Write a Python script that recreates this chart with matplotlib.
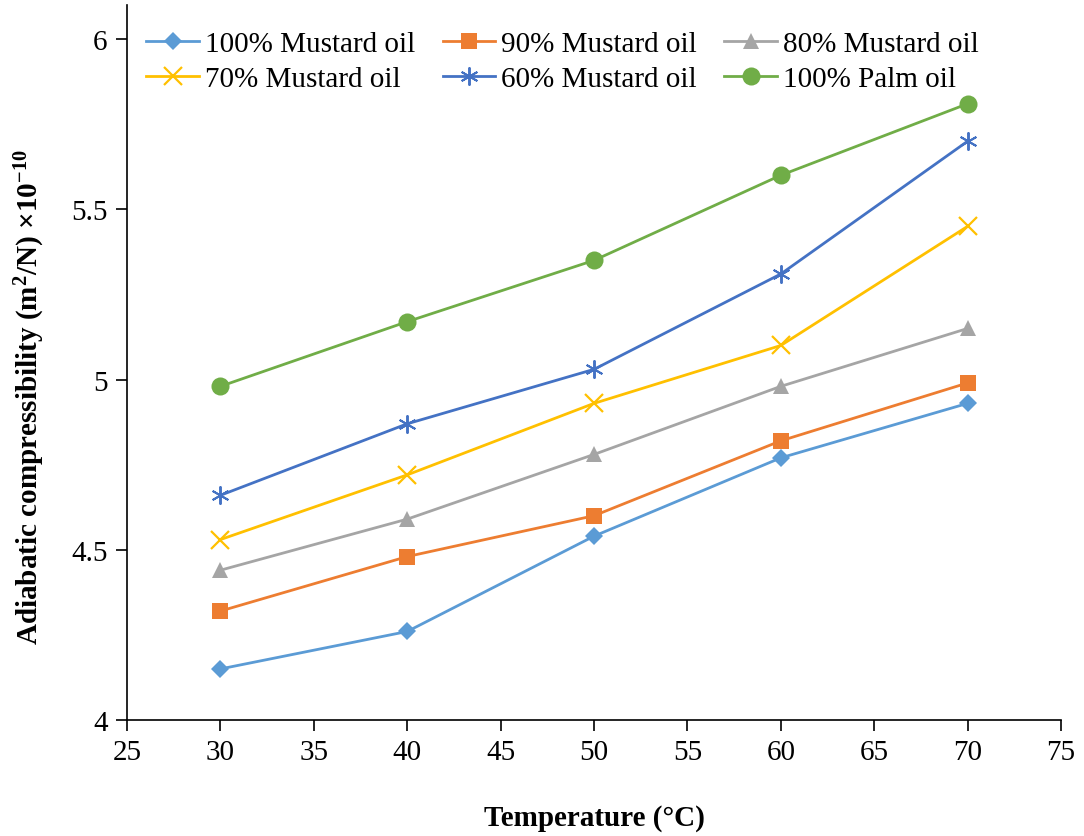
import matplotlib
matplotlib.use("Agg")
import matplotlib.pyplot as plt

temps = [30, 40, 50, 60, 70]
mustard100 = [4.15, 4.26, 4.54, 4.77, 4.93]
mustard90 = [4.32, 4.48, 4.60, 4.82, 4.99]
mustard80 = [4.44, 4.59, 4.78, 4.98, 5.15]
mustard70 = [4.53, 4.72, 4.93, 5.10, 5.45]
mustard60 = [4.66, 4.87, 5.03, 5.31, 5.70]
palm100 = [4.98, 5.17, 5.35, 5.60, 5.81]
labels = ["100% Mustard oil", "90% Mustard oil", "80% Mustard oil",
          "70% Mustard oil", "60% Mustard oil", "100% Palm oil"]
xticks = [25, 30, 35, 40, 45, 50, 55, 60, 65, 70, 75]
yticks = [4, 4.5, 5, 5.5, 6]
ytick_labels = ["4", "4.5", "5", "5.5", "6"]

plt.rcParams['font.family'] = ['Liberation Serif', 'DejaVu Serif']
plt.rcParams['mathtext.default'] = 'regular'

fig = plt.figure(figsize=(10.84, 8.37), dpi=100)
ax = fig.add_axes([0.1172, 0.1386, 0.8616, 0.8542])

series = [mustard100, mustard90, mustard80, mustard70, mustard60, palm100]
colors = ["#5B9BD5", "#ED7D31", "#A5A5A5", "#FFC000", "#4472C4", "#70AD47"]
markers = ["D", "s", "^", "x", "*", "o"]
msizes = [9, 12, 12, 13, 13, 13]

handles = []
for vals, c, m, ms, lab in zip(series, colors, markers, msizes, labels):
    if m == "*":
        h, = ax.plot(temps, vals, color=c, lw=2, marker=(6, 2, 0), ms=ms,
                     markeredgewidth=1.4, label=lab)
    elif m == "x":
        h, = ax.plot(temps, vals, color=c, lw=2, marker=m, ms=ms,
                     markeredgewidth=1.6, label=lab)
    else:
        h, = ax.plot(temps, vals, color=c, lw=2, marker=m, ms=ms,
                     markeredgewidth=0, label=lab)
    handles.append(h)

ax.set_xlim(25, 75)
ax.set_ylim(4, 6.1)
ax.set_xticks(xticks)
ax.set_yticks(yticks)
ax.set_yticklabels(ytick_labels)
for s in ["top", "right"]:
    ax.spines[s].set_visible(False)
for s in ["left", "bottom"]:
    ax.spines[s].set_linewidth(1.2)
ax.tick_params(direction="out", length=8, width=1.2, labelsize=21, pad=6)

ax.set_xlabel("Temperature (°C)", fontsize=21, fontweight="bold", labelpad=28)
ax.set_ylabel("Adiabatic compressibility (m$^{2}$/N) ×10$^{-10}$", fontsize=21,
              fontweight="bold")
ax.yaxis.set_label_coords(-0.0857, 0.453)

order = [0, 3, 1, 4, 2, 5]
leg = ax.legend([handles[i] for i in order], [labels[i] for i in order],
                ncol=3, loc="upper left", bbox_to_anchor=(0.005, 0.985), frameon=False,
                fontsize=21, handlelength=1.8, handletextpad=0.2, columnspacing=0.95,
                labelspacing=0.3, borderaxespad=0.1)

fig.savefig("out.png", dpi=100)
